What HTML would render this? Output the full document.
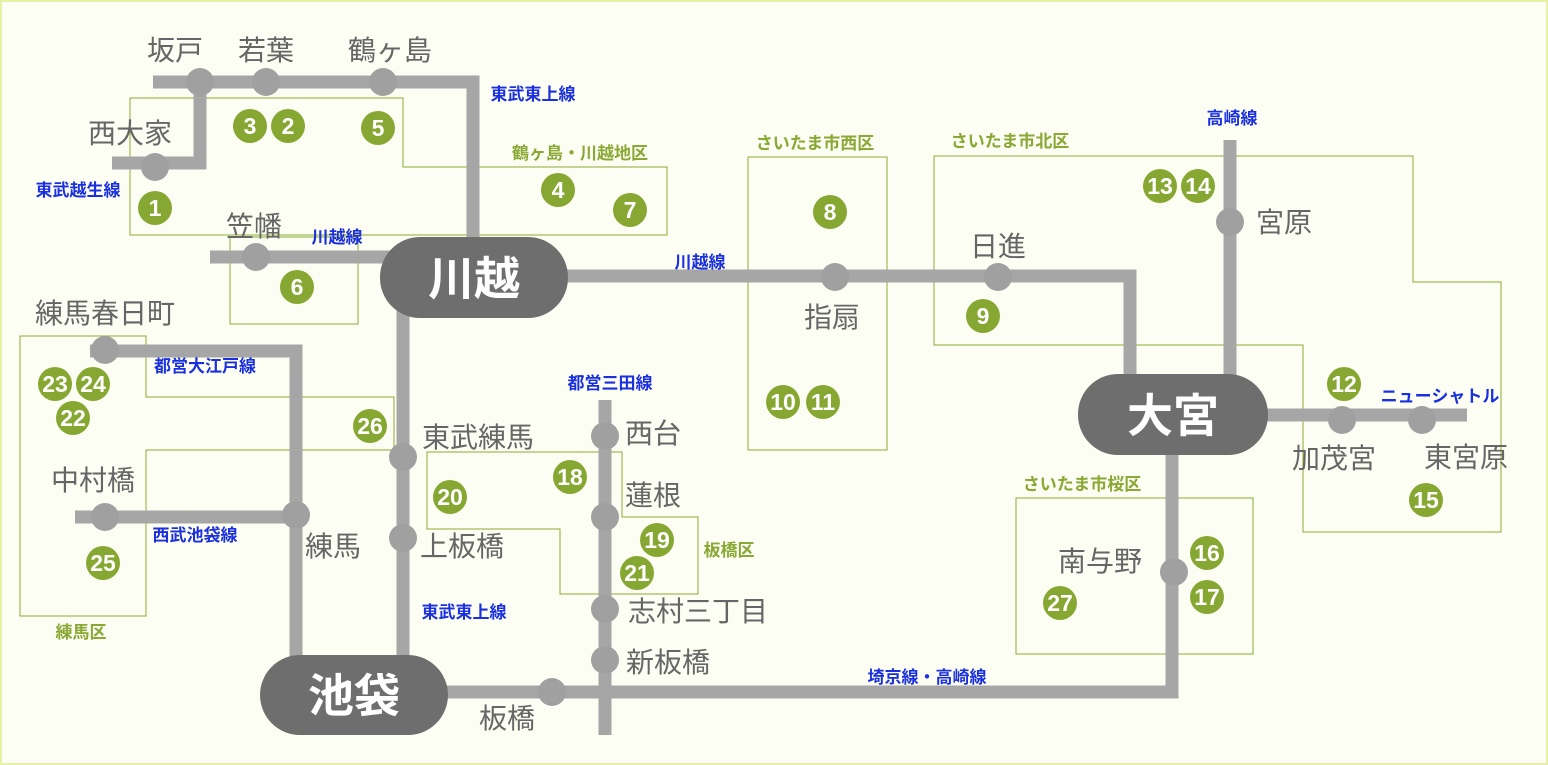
<!DOCTYPE html>
<html><head><meta charset="utf-8"><style>
html,body{margin:0;padding:0;background:#fdfef3;}
svg{display:block;}
text{font-family:"Liberation Sans","Noto Sans CJK JP",sans-serif;}
.st{fill:#666;font-size:28px;font-weight:normal;text-anchor:middle;}
.bl{fill:#1a30e0;font-size:17px;font-weight:bold;text-anchor:middle;}
.gl{fill:#8aa834;font-size:17px;font-weight:bold;text-anchor:middle;}
.n{fill:#fff;font-size:23px;font-weight:bold;text-anchor:middle;}
.ln{fill:none;stroke:#a6a6a6;stroke-width:13;}
.bx{fill:none;stroke:#8aaa30;stroke-width:1;}
.big{fill:#fff;font-size:46px;font-weight:bold;text-anchor:middle;}
</style></head><body>
<svg width="1548" height="765" viewBox="0 0 1548 765" xmlns="http://www.w3.org/2000/svg">
<rect x="1" y="1" width="1546" height="763" fill="#fdfef3" stroke="#e6f0a6" stroke-width="2"/>
<g class="bx">
<polygon points="130,98 403,98 403,167 667,167 667,235 130,235"/>
<rect x="230" y="237" width="128" height="87"/>
<polygon points="20,336 146,336 146,397 394,397 394,450 146,450 146,616 20,616"/>
<polygon points="427,452 622,452 622,517 698,517 698,594 560,594 560,529 427,529"/>
<rect x="748" y="157" width="139" height="293"/>
<polygon points="934,156 1413,156 1413,282 1501,282 1501,532 1303,532 1303,345 934,345"/>
<rect x="1016" y="498" width="237" height="156"/>
</g>
<g class="ln">
<polyline points="153,82 473,82 473,250"/>
<polyline points="112,163 200,163 200,82"/>
<polyline points="210,257 400,257"/>
<polyline points="560,276 1130,276 1130,385"/>
<polyline points="403,310 403,665"/>
<polyline points="90,351 296,351 296,665"/>
<polyline points="75,517 296,517"/>
<polyline points="440,692 1172,692 1172,450"/>
<polyline points="605,400 605,735"/>
<polyline points="1230,140 1230,380"/>
<polyline points="1260,415 1467,415"/>
</g>
<g fill="#a0a0a0">
<circle cx="200" cy="82" r="14"/><circle cx="266" cy="82" r="14"/><circle cx="383" cy="82" r="14"/>
<circle cx="155" cy="167" r="14"/><circle cx="256" cy="257" r="14"/>
<circle cx="835" cy="277" r="14"/><circle cx="998" cy="277" r="14"/>
<circle cx="403" cy="457" r="14"/><circle cx="403" cy="538" r="14"/>
<circle cx="105" cy="350" r="14"/><circle cx="296" cy="515" r="14"/><circle cx="105" cy="517" r="14"/>
<circle cx="552" cy="692" r="14"/><circle cx="1174" cy="572" r="14"/>
<circle cx="605" cy="436" r="14"/><circle cx="605" cy="517" r="14"/><circle cx="605" cy="609" r="14"/><circle cx="605" cy="660" r="14"/>
<circle cx="1230" cy="222" r="14"/><circle cx="1342" cy="420" r="14"/><circle cx="1422" cy="420" r="14"/>
</g>
<rect x="380" y="237" width="188" height="81" rx="40" fill="#6e6e6e"/>
<text class="big" x="474" y="295">川越</text>
<rect x="260" y="655" width="188" height="80" rx="40" fill="#6e6e6e"/>
<text class="big" x="354" y="712">池袋</text>
<rect x="1078" y="374" width="190" height="81" rx="40" fill="#6e6e6e"/>
<text class="big" x="1173" y="432">大宮</text>
<g fill="#86a832">
<circle cx="155" cy="208" r="17"/><circle cx="250" cy="126" r="17"/><circle cx="288" cy="126" r="17"/><circle cx="378" cy="128" r="17"/>
<circle cx="558" cy="190" r="17"/><circle cx="630" cy="210" r="17"/><circle cx="297" cy="287" r="17"/><circle cx="830" cy="212" r="17"/>
<circle cx="983" cy="316" r="17"/><circle cx="783" cy="402" r="17"/><circle cx="823" cy="402" r="17"/><circle cx="1160" cy="186" r="17"/>
<circle cx="1198" cy="186" r="17"/><circle cx="1344" cy="384" r="17"/><circle cx="1426" cy="500" r="17"/><circle cx="1207" cy="553" r="17"/>
<circle cx="1207" cy="597" r="17"/><circle cx="1060" cy="603" r="17"/><circle cx="370" cy="426" r="17"/><circle cx="55" cy="384" r="17"/>
<circle cx="93" cy="384" r="17"/><circle cx="73" cy="418" r="17"/><circle cx="103" cy="563" r="17"/><circle cx="450" cy="497" r="17"/>
<circle cx="570" cy="477" r="17"/><circle cx="657" cy="540" r="17"/><circle cx="637" cy="573" r="17"/>
</g>
<g class="n">
<text x="155" y="216">1</text><text x="250" y="134">3</text><text x="288" y="134">2</text><text x="378" y="136">5</text>
<text x="558" y="198">4</text><text x="630" y="218">7</text><text x="297" y="295">6</text><text x="830" y="220">8</text>
<text x="983" y="324">9</text><text x="783" y="410">10</text><text x="823" y="410">11</text><text x="1160" y="194">13</text>
<text x="1198" y="194">14</text><text x="1344" y="392">12</text><text x="1426" y="508">15</text><text x="1207" y="561">16</text>
<text x="1207" y="605">17</text><text x="1060" y="611">27</text><text x="370" y="434">26</text><text x="55" y="392">23</text>
<text x="93" y="392">24</text><text x="73" y="426">22</text><text x="103" y="571">25</text><text x="450" y="505">20</text>
<text x="570" y="485">18</text><text x="657" y="548">19</text><text x="637" y="581">21</text>
</g>
<g class="st">
<text x="175" y="60">坂戸</text><text x="266" y="60">若葉</text><text x="390" y="60">鶴ヶ島</text>
<text x="130" y="143">西大家</text><text x="254" y="236">笠幡</text><text x="105" y="323">練馬春日町</text>
<text x="93" y="490">中村橋</text><text x="333" y="556">練馬</text><text x="478" y="447">東武練馬</text>
<text x="462" y="556">上板橋</text><text x="653" y="443">西台</text><text x="653" y="505">蓮根</text>
<text x="698" y="621">志村三丁目</text><text x="668" y="672">新板橋</text><text x="507" y="728">板橋</text>
<text x="832" y="327">指扇</text><text x="998" y="256">日進</text><text x="1284" y="232">宮原</text>
<text x="1334" y="468">加茂宮</text><text x="1466" y="467">東宮原</text><text x="1100" y="571">南与野</text>
</g>
<g class="bl">
<text x="533" y="100">東武東上線</text><text x="78" y="196">東武越生線</text><text x="337" y="243">川越線</text>
<text x="700" y="268">川越線</text><text x="205" y="372">都営大江戸線</text><text x="195" y="541">西武池袋線</text>
<text x="464" y="618">東武東上線</text><text x="610" y="389">都営三田線</text><text x="1232" y="124">高崎線</text>
<text x="1440" y="402">ニューシャトル</text><text x="927" y="683">埼京線・高崎線</text>
</g>
<g class="gl">
<text x="580" y="159">鶴ヶ島・川越地区</text><text x="815" y="149">さいたま市西区</text><text x="1010" y="147">さいたま市北区</text>
<text x="1082" y="490">さいたま市桜区</text><text x="729" y="556">板橋区</text><text x="81" y="638">練馬区</text>
</g>
</svg>
</body></html>
